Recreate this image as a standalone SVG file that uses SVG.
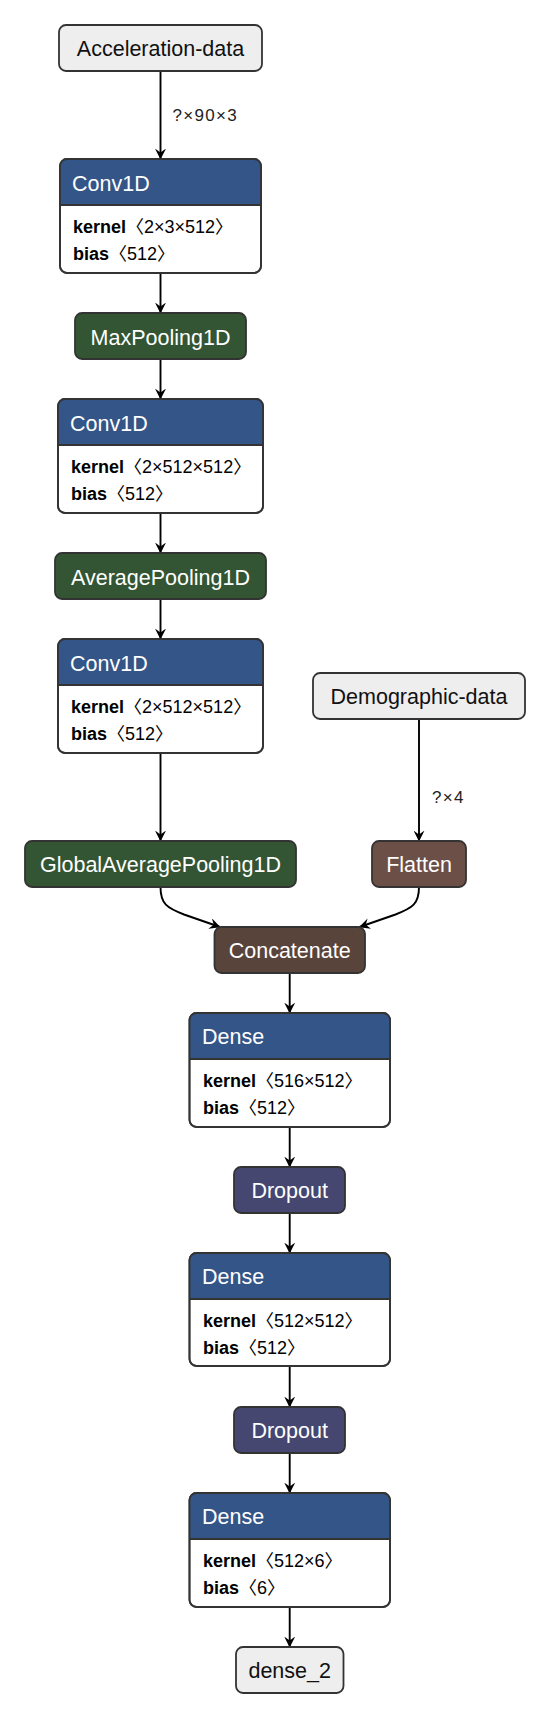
<svg xmlns="http://www.w3.org/2000/svg" width="550" height="1718" viewBox="0 0 550 1718">
<defs>
<style>
text{font-family:"Liberation Sans","Noto Sans CJK SC",sans-serif;}
.box{stroke:#333;stroke-width:1.8;}
.input{fill:#eee;}
.layer{fill:#335588;}
.pool{fill:#335533;}
.shape{fill:#6c4f47;}
.tensor{fill:#59443c;}
.drop{fill:#454770;}
.body{fill:#fff;}
.sep{stroke:#333;stroke-width:1.8;}
.t{font-size:21.5px;fill:#fff;}
.ti{font-size:21.5px;fill:#111;}
.a{font-size:18px;fill:#000;}
.b{font-weight:bold;}
.el{font-size:17px;fill:#222;letter-spacing:1.3px;}
.edge{fill:none;stroke:#000;stroke-width:1.9;marker-end:url(#arr);}
</style>
<marker id="arr" viewBox="0 0 10 10" refX="9.5" refY="5" markerWidth="11" markerHeight="11" markerUnits="userSpaceOnUse" orient="auto">
<path d="M0,0 L10,5 L0,10 L3.5,5 Z" fill="#000"/>
</marker>
</defs>

<g id="edges">
<line class="edge" x1="160.5" y1="71" x2="160.5" y2="159"/>
<text class="el" x="172.5" y="121">?×90×3</text>
<line class="edge" x1="160.5" y1="273" x2="160.5" y2="313"/>
<line class="edge" x1="160.5" y1="359" x2="160.5" y2="399"/>
<line class="edge" x1="160.5" y1="513" x2="160.5" y2="553"/>
<line class="edge" x1="160.5" y1="599" x2="160.5" y2="639"/>
<line class="edge" x1="160.5" y1="753" x2="160.5" y2="841"/>
<line class="edge" x1="419" y1="719" x2="419" y2="841"/>
<text class="el" x="432" y="803">?×4</text>
<path class="edge" d="M160.5,887 C160.5,904 167,908 184,914.5 L220,927"/>
<path class="edge" d="M419,887 C419,904 412.5,908 395.5,914.5 L359.5,927"/>
<line class="edge" x1="289.7" y1="973" x2="289.7" y2="1013"/>
<line class="edge" x1="289.7" y1="1127" x2="289.7" y2="1167"/>
<line class="edge" x1="289.7" y1="1213" x2="289.7" y2="1253"/>
<line class="edge" x1="289.7" y1="1366" x2="289.7" y2="1407"/>
<line class="edge" x1="289.7" y1="1453" x2="289.7" y2="1493"/>
<line class="edge" x1="289.7" y1="1607" x2="289.7" y2="1647"/>
</g>

<g id="node-acceleration-data">
<rect class="box input" x="59" y="25" width="203" height="46" rx="7"/>
<text class="ti" x="160.5" y="56" text-anchor="middle">Acceleration-data</text>
</g>

<g id="node-conv1d-1">
<rect class="box body" x="60" y="159" width="201" height="114" rx="7"/>
<path class="layer" d="M60,205 V166 A7,7 0 0 1 67,159 H254 A7,7 0 0 1 261,166 V205 Z"/>
<line class="sep" x1="60" y1="205" x2="261" y2="205"/>
<rect x="60" y="159" width="201" height="114" rx="7" fill="none" stroke="#333" stroke-width="1.8"/>
<text class="t" x="72" y="191">Conv1D</text>
<text class="a" x="73" y="233"><tspan class="b">kernel</tspan>〈2×3×512〉</text>
<text class="a" x="73" y="260"><tspan class="b">bias</tspan>〈512〉</text>
</g>

<g id="node-maxpooling1d">
<rect class="box pool" x="75" y="313" width="171" height="46" rx="7"/>
<text class="t" x="160.5" y="345" text-anchor="middle">MaxPooling1D</text>
</g>

<g id="node-conv1d-2">
<rect class="box body" x="58" y="399" width="205" height="114" rx="7"/>
<path class="layer" d="M58,445 V406 A7,7 0 0 1 65,399 H256 A7,7 0 0 1 263,406 V445 Z"/>
<line class="sep" x1="58" y1="445" x2="263" y2="445"/>
<rect x="58" y="399" width="205" height="114" rx="7" fill="none" stroke="#333" stroke-width="1.8"/>
<text class="t" x="70" y="431">Conv1D</text>
<text class="a" x="71" y="473"><tspan class="b">kernel</tspan>〈2×512×512〉</text>
<text class="a" x="71" y="500"><tspan class="b">bias</tspan>〈512〉</text>
</g>

<g id="node-averagepooling1d">
<rect class="box pool" x="55" y="553" width="211" height="46" rx="7"/>
<text class="t" x="160.5" y="585" text-anchor="middle">AveragePooling1D</text>
</g>

<g id="node-conv1d-3">
<rect class="box body" x="58" y="639" width="205" height="114" rx="7"/>
<path class="layer" d="M58,685 V646 A7,7 0 0 1 65,639 H256 A7,7 0 0 1 263,646 V685 Z"/>
<line class="sep" x1="58" y1="685" x2="263" y2="685"/>
<rect x="58" y="639" width="205" height="114" rx="7" fill="none" stroke="#333" stroke-width="1.8"/>
<text class="t" x="70" y="671">Conv1D</text>
<text class="a" x="71" y="713"><tspan class="b">kernel</tspan>〈2×512×512〉</text>
<text class="a" x="71" y="740"><tspan class="b">bias</tspan>〈512〉</text>
</g>

<g id="node-demographic-data">
<rect class="box input" x="313" y="673" width="212" height="46" rx="7"/>
<text class="ti" x="419" y="704" text-anchor="middle">Demographic-data</text>
</g>

<g id="node-globalaveragepooling1d">
<rect class="box pool" x="25" y="841" width="271" height="46" rx="7"/>
<text class="t" x="160.5" y="872" text-anchor="middle">GlobalAveragePooling1D</text>
</g>

<g id="node-flatten">
<rect class="box shape" x="372" y="841" width="94" height="46" rx="7"/>
<text class="t" x="419" y="872" text-anchor="middle">Flatten</text>
</g>

<g id="node-concatenate">
<rect class="box tensor" x="214.5" y="927" width="150.5" height="46" rx="7"/>
<text class="t" x="289.7" y="958" text-anchor="middle">Concatenate</text>
</g>

<g id="node-dense-1">
<rect class="box body" x="189.5" y="1013" width="200.5" height="114" rx="7"/>
<path class="layer" d="M189.5,1059 V1020 A7,7 0 0 1 196.5,1013 H383 A7,7 0 0 1 390,1020 V1059 Z"/>
<line class="sep" x1="189.5" y1="1059" x2="390" y2="1059"/>
<rect x="189.5" y="1013" width="200.5" height="114" rx="7" fill="none" stroke="#333" stroke-width="1.8"/>
<text class="t" x="202" y="1044">Dense</text>
<text class="a" x="203" y="1087"><tspan class="b">kernel</tspan>〈516×512〉</text>
<text class="a" x="203" y="1114"><tspan class="b">bias</tspan>〈512〉</text>
</g>

<g id="node-dropout-1">
<rect class="box drop" x="234" y="1167" width="111" height="46" rx="7"/>
<text class="t" x="289.7" y="1198" text-anchor="middle">Dropout</text>
</g>

<g id="node-dense-2">
<rect class="box body" x="189.5" y="1253" width="200.5" height="113" rx="7"/>
<path class="layer" d="M189.5,1299 V1260 A7,7 0 0 1 196.5,1253 H383 A7,7 0 0 1 390,1260 V1299 Z"/>
<line class="sep" x1="189.5" y1="1299" x2="390" y2="1299"/>
<rect x="189.5" y="1253" width="200.5" height="113" rx="7" fill="none" stroke="#333" stroke-width="1.8"/>
<text class="t" x="202" y="1284">Dense</text>
<text class="a" x="203" y="1327"><tspan class="b">kernel</tspan>〈512×512〉</text>
<text class="a" x="203" y="1354"><tspan class="b">bias</tspan>〈512〉</text>
</g>

<g id="node-dropout-2">
<rect class="box drop" x="234" y="1407" width="111" height="46" rx="7"/>
<text class="t" x="289.7" y="1438" text-anchor="middle">Dropout</text>
</g>

<g id="node-dense-3">
<rect class="box body" x="189.5" y="1493" width="200.5" height="114" rx="7"/>
<path class="layer" d="M189.5,1539 V1500 A7,7 0 0 1 196.5,1493 H383 A7,7 0 0 1 390,1500 V1539 Z"/>
<line class="sep" x1="189.5" y1="1539" x2="390" y2="1539"/>
<rect x="189.5" y="1493" width="200.5" height="114" rx="7" fill="none" stroke="#333" stroke-width="1.8"/>
<text class="t" x="202" y="1524">Dense</text>
<text class="a" x="203" y="1567"><tspan class="b">kernel</tspan>〈512×6〉</text>
<text class="a" x="203" y="1594"><tspan class="b">bias</tspan>〈6〉</text>
</g>

<g id="node-dense_2">
<rect class="box input" x="236" y="1647" width="107.5" height="46" rx="7"/>
<text class="ti" x="289.7" y="1678" text-anchor="middle">dense_2</text>
</g>
</svg>
